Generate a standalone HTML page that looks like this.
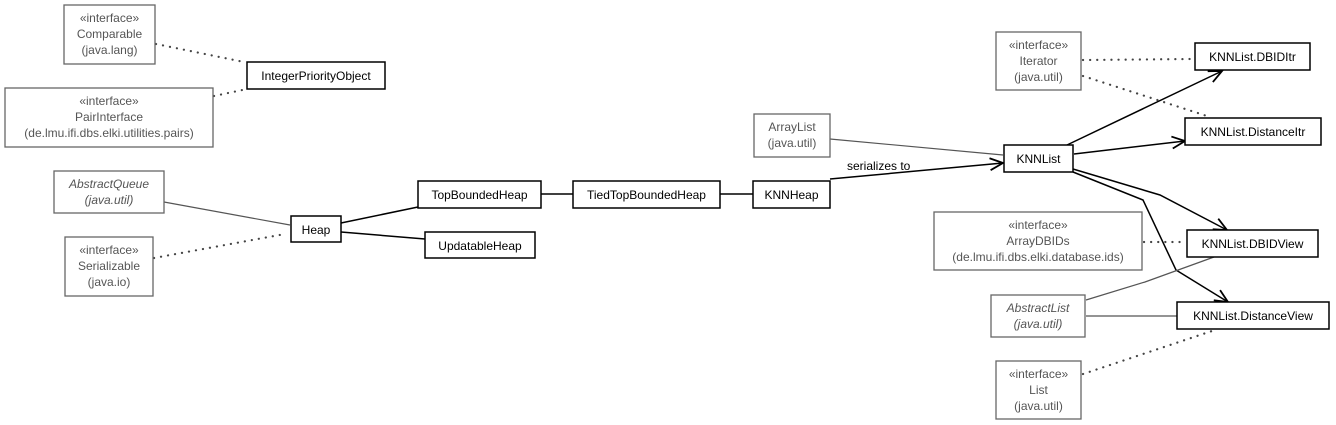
<!DOCTYPE html>
<html><head><meta charset="utf-8"><style>
html,body{margin:0;padding:0;background:#fff;}
svg{display:block;font-family:"Liberation Sans",Arial,sans-serif;font-size:12px;}
.c{fill:#fff;stroke:#000;stroke-width:1.5}
.g{fill:#fff;stroke:#666;stroke-width:1.3}
.t{fill:#000;text-anchor:middle}
.tg{fill:#555;text-anchor:middle}
.i{font-style:italic}
.l{stroke:#000;stroke-width:1.5;fill:none}
.lg{stroke:#555;stroke-width:1.2;fill:none}
.d{stroke:#444;stroke-width:2.2;fill:none;stroke-dasharray:0.1,7;stroke-linecap:round}
</style></head><body>
<svg width="1336" height="425" viewBox="0 0 1336 425">
<defs>
<marker id="a" markerWidth="16" markerHeight="14" refX="14" refY="7" orient="auto" markerUnits="userSpaceOnUse">
<path d="M1,1 L14,7 L1,13" fill="none" stroke="#000" stroke-width="1.8"/>
</marker>
</defs>
<line class="d" x1="156" y1="44" x2="244" y2="62"/>
<line class="d" x1="214" y1="96" x2="247" y2="89"/>
<line class="lg" x1="164" y1="202" x2="290" y2="225"/>
<line class="d" x1="154" y1="258" x2="285" y2="234"/>
<line class="l" x1="341" y1="223" x2="418" y2="207"/>
<line class="l" x1="341" y1="232" x2="425" y2="239"/>
<line class="l" x1="541" y1="194" x2="573" y2="194"/>
<line class="l" x1="720" y1="194" x2="753" y2="194"/>
<line class="lg" x1="830" y1="139" x2="1003" y2="155"/>
<line class="l" x1="830" y1="179" x2="1003" y2="163" marker-end="url(#a)"/>
<text x="847" y="170" class="t" style="text-anchor:start">serializes to</text>
<line class="d" x1="1083" y1="60" x2="1192" y2="59"/>
<line class="d" x1="1083" y1="76" x2="1207" y2="116"/>
<line class="l" x1="1067" y1="145" x2="1222" y2="71" marker-end="url(#a)"/>
<line class="l" x1="1074" y1="154" x2="1185" y2="141" marker-end="url(#a)"/>
<polyline class="l" points="1073,169 1160,195 1227,230" marker-end="url(#a)"/>
<polyline class="l" points="1073,172 1143,200 1176,270 1228,302" marker-end="url(#a)"/>
<line class="d" x1="1144" y1="242" x2="1186" y2="242"/>
<polyline class="lg" points="1086,300 1145,282 1214,257"/>
<line class="lg" x1="1086" y1="316" x2="1177" y2="316"/>
<line class="d" x1="1083" y1="374" x2="1215" y2="330"/>
<rect class="g" x="64" y="5" width="91" height="59"/>
<text class="tg" x="109.5" y="22">«interface»</text><text class="tg" x="109.5" y="38">Comparable</text><text class="tg" x="109.5" y="54">(java.lang)</text>
<rect class="g" x="5" y="88" width="208" height="59"/>
<text class="tg" x="109" y="105">«interface»</text><text class="tg" x="109" y="121">PairInterface</text><text class="tg" x="109" y="137">(de.lmu.ifi.dbs.elki.utilities.pairs)</text>
<rect class="g" x="54" y="171" width="110" height="42"/>
<text class="tg i" x="109" y="188">AbstractQueue</text><text class="tg i" x="109" y="204">(java.util)</text>
<rect class="g" x="65" y="237" width="88" height="59"/>
<text class="tg" x="109" y="254">«interface»</text><text class="tg" x="109" y="270">Serializable</text><text class="tg" x="109" y="286">(java.io)</text>
<rect class="g" x="754" y="114" width="76" height="43"/>
<text class="tg" x="792" y="131">ArrayList</text><text class="tg" x="792" y="147">(java.util)</text>
<rect class="g" x="996" y="32" width="85" height="58"/>
<text class="tg" x="1038.5" y="49">«interface»</text><text class="tg" x="1038.5" y="65">Iterator</text><text class="tg" x="1038.5" y="81">(java.util)</text>
<rect class="g" x="934" y="212" width="208" height="58"/>
<text class="tg" x="1038" y="229">«interface»</text><text class="tg" x="1038" y="245">ArrayDBIDs</text><text class="tg" x="1038" y="261">(de.lmu.ifi.dbs.elki.database.ids)</text>
<rect class="g" x="991" y="295" width="94" height="42"/>
<text class="tg i" x="1038" y="312">AbstractList</text><text class="tg i" x="1038" y="328">(java.util)</text>
<rect class="g" x="996" y="361" width="85" height="58"/>
<text class="tg" x="1038.5" y="378">«interface»</text><text class="tg" x="1038.5" y="394">List</text><text class="tg" x="1038.5" y="410">(java.util)</text>
<rect class="c" x="247" y="62" width="138" height="27"/><text class="t" x="316" y="80">IntegerPriorityObject</text>
<rect class="c" x="291" y="216" width="50" height="26"/><text class="t" x="316" y="234">Heap</text>
<rect class="c" x="418" y="181" width="123" height="27"/><text class="t" x="479.5" y="199">TopBoundedHeap</text>
<rect class="c" x="425" y="232" width="110" height="26"/><text class="t" x="480" y="250">UpdatableHeap</text>
<rect class="c" x="573" y="181" width="147" height="27"/><text class="t" x="646.5" y="199">TiedTopBoundedHeap</text>
<rect class="c" x="753" y="181" width="77" height="27"/><text class="t" x="791.5" y="199">KNNHeap</text>
<rect class="c" x="1004" y="145" width="69" height="27"/><text class="t" x="1038.5" y="163">KNNList</text>
<rect class="c" x="1195" y="43" width="115" height="27"/><text class="t" x="1252.5" y="61">KNNList.DBIDItr</text>
<rect class="c" x="1185" y="118" width="136" height="27"/><text class="t" x="1253" y="136">KNNList.DistanceItr</text>
<rect class="c" x="1187" y="230" width="131" height="27"/><text class="t" x="1252.5" y="248">KNNList.DBIDView</text>
<rect class="c" x="1177" y="302" width="152" height="27"/><text class="t" x="1253" y="320">KNNList.DistanceView</text>
</svg>
</body></html>
